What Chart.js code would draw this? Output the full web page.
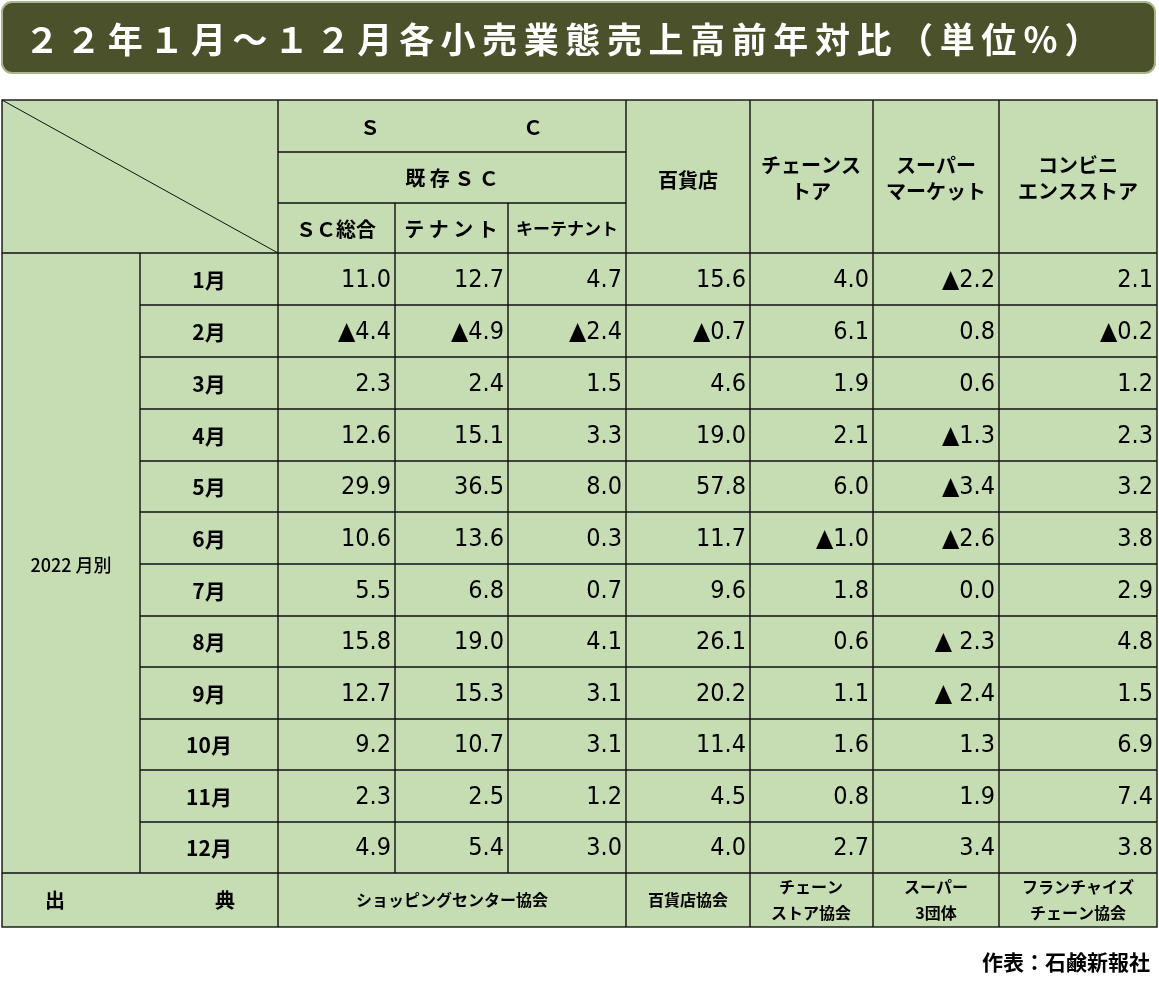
<!DOCTYPE html>
<html><head><meta charset="utf-8">
<script src="https://cdn.jsdelivr.net/npm/chart.js@4"></script>
<style>html,body{margin:0;padding:0;background:#fff}</style>
</head><body>
<canvas id="c" width="1159" height="982"></canvas>
<script>
const title = "２２年１月～１２月各小売業態売上高前年対比（単位％）";
const months = ["1月","2月","3月","4月","5月","6月","7月","8月","9月","10月","11月","12月"];
const scTotal  = ["11.0","▲4.4","2.3","12.6","29.9","10.6","5.5","15.8","12.7","9.2","2.3","4.9"];
const tenant   = ["12.7","▲4.9","2.4","15.1","36.5","13.6","6.8","19.0","15.3","10.7","2.5","5.4"];
const keyTenant= ["4.7","▲2.4","1.5","3.3","8.0","0.3","0.7","4.1","3.1","3.1","1.2","3.0"];
const dept     = ["15.6","▲0.7","4.6","19.0","57.8","11.7","9.6","26.1","20.2","11.4","4.5","4.0"];
const chain    = ["4.0","6.1","1.9","2.1","6.0","▲1.0","1.8","0.6","1.1","1.6","0.8","2.7"];
const superM   = ["▲2.2","0.8","0.6","▲1.3","▲3.4","▲2.6","0.0","▲ 2.3","▲ 2.4","1.3","1.9","3.4"];
const conv     = ["2.1","▲0.2","1.2","2.3","3.2","3.8","2.9","4.8","1.5","6.9","7.4","3.8"];
const series = [scTotal, tenant, keyTenant, dept, chain, superM, conv];
const sources = ["ショッピングセンター協会","百貨店協会","チェーン\nストア協会","スーパー\n3団体","フランチャイズ\nチェーン協会"];

// layout (pixel units of the scales)
const colX = [2,140,278,395,508,626,750,873,999,1157];
const rowY = [253,305,357,409,461,512,564,616,667,719,770,822,873];
const top0 = 100, h1 = 152, h2 = 203, bottom = 927;
const JP = '"Noto Sans CJK JP", sans-serif';
const NUM = '"Liberation Sans Narrow", "DejaVu Sans Condensed", sans-serif';

const tablePlugin = {
  id:'table',
  afterDraw(chart){
    const ctx = chart.ctx, xs = chart.scales.x, ys = chart.scales.y;
    const X = v=>xs.getPixelForValue(v), Y = v=>ys.getPixelForValue(v);
    ctx.save();
    // title bar
    ctx.fillStyle='#4b512b'; ctx.strokeStyle='#a9b58a'; ctx.lineWidth=2;
    ctx.beginPath(); ctx.roundRect(X(2),Y(2),X(1155)-X(2),Y(73)-Y(2),10); ctx.fill(); ctx.stroke();
    ctx.fillStyle='#fff'; ctx.font='bold 35px '+JP; ctx.textBaseline='middle'; ctx.textAlign='center';
    const chars = title.split('');
    chars.forEach((ch,i)=>ctx.fillText(ch, X(42+i*41.6), Y(40)));
    // table background
    ctx.fillStyle='#c6ddb3';
    ctx.fillRect(X(2),Y(top0),X(1157)-X(2),Y(bottom)-Y(top0));
    ctx.strokeStyle='#111'; ctx.lineWidth=1.4;
    const line=(a,b,c,d)=>{ctx.beginPath();ctx.moveTo(X(a),Y(b));ctx.lineTo(X(c),Y(d));ctx.stroke();};
    ctx.strokeRect(X(2),Y(top0),X(1157)-X(2),Y(bottom)-Y(top0));
    colX.forEach((x,i)=>{ if(i===0||i===colX.length-1) return;
      if(i===1) line(x,rowY[0],x,rowY[12]);
      else if(i===3||i===4) line(x,h2,x,rowY[12]);
      else line(x,top0,x,bottom);
    });
    line(278,h1,626,h1); line(278,h2,626,h2);
    rowY.forEach((y,i)=>{ if(i===0||i===12) line(2,y,1157,y); else line(140,y,1157,y); });
    ctx.lineWidth=1; line(2,top0,278,rowY[0]);
    ctx.fillStyle='#000'; ctx.textAlign='center';
    const txt=(s,x,y,f)=>{ctx.font=f; const ls=s.split('\n'); ls.forEach((l,k)=>ctx.fillText(l,X(x),Y(y+(k-(ls.length-1)/2)*26)));};
    const hf='bold 20px '+JP;
    txt('Ｓ',370,127,hf); txt('Ｃ',533,127,hf);
    txt('既存ＳＣ'.split('').join(' '),452,178,hf);
    txt('ＳＣ総合',336,229,hf); txt('テ ナ ン ト',451,229,hf); txt('キーテナント',567,229,'bold 17px '+JP);
    txt('百貨店',688,180,hf); txt('チェーンス\nトア',811,178,hf);
    txt('スーパー\nマーケット',936,178,hf); txt('コンビニ\nエンスストア',1078,178,hf);
    txt('2022 月別',71,565,'500 18px '+JP);
    months.forEach((m,r)=>{
      const yc=(rowY[r]+rowY[r+1])/2+1;
      txt(m,209,yc,'bold 21px '+JP);
      ctx.textAlign='right';
      series.forEach((s,c)=>{ ctx.font='25px '+NUM; ctx.fillText(s[r],X(colX[c+3]-4),Y(yc)); });
      ctx.textAlign='center';
    });
    const fy=(873+927)/2;
    txt('出',55,fy,hf); txt('典',225,fy,hf);
    const sx=[452,688,811,936,1078];
    sources.forEach((s,i)=>txt(s,sx[i],fy,'bold 16px '+JP));
    ctx.textAlign='right'; ctx.font='bold 21px '+JP;
    ctx.fillText('作表：石鹸新報社',X(1150),Y(962));
    ctx.restore();
  }
};

new Chart(document.getElementById('c'),{
  type:'scatter',
  data:{datasets:[{data:[],pointRadius:0}]},
  options:{responsive:false,animation:false,events:[],
    layout:{padding:0},
    plugins:{legend:{display:false},tooltip:{enabled:false}},
    scales:{x:{type:'linear',min:0,max:1159,display:false},
            y:{type:'linear',min:0,max:982,reverse:true,display:false}}},
  plugins:[tablePlugin]
});
</script>
</body></html>
